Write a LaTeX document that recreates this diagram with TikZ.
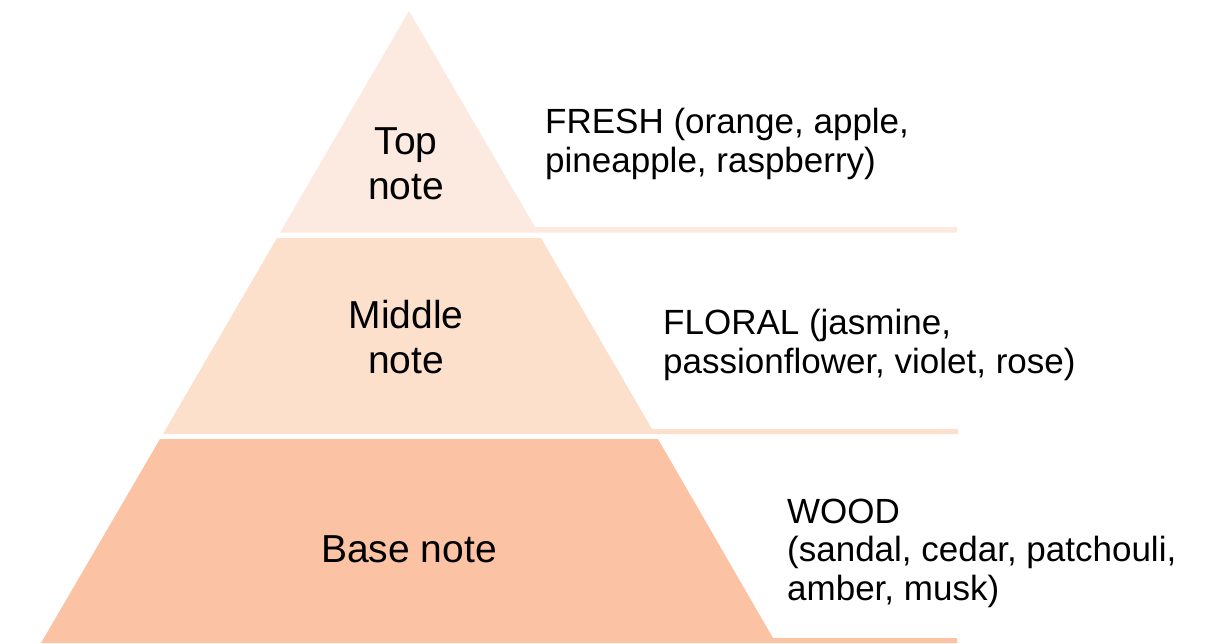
\documentclass[tikz,border=0pt]{standalone}
\usepackage{fontspec}
\setmainfont{Liberation Sans}
\definecolor{topc}{RGB}{252,233,223}
\definecolor{midc}{RGB}{252,224,204}
\definecolor{basec}{RGB}{251,195,164}
\begin{document}
\begin{tikzpicture}[x=1pt,y=-1pt,
  lbl/.style={font=\fontsize{39}{45}\selectfont, align=center, inner sep=0pt, text=black},
  desc/.style={font=\fontsize{35}{38.5}\selectfont, align=left, anchor=west, inner sep=0pt, text=black}]
\useasboundingbox (0,0) rectangle (1224,643);
\fill[topc] (409,11) -- (280,232.5) -- (957,232.5) -- (957,227) -- (535,227) -- cycle;
\fill[midc] (277,238) -- (541,238) -- (652,429) -- (958,429) -- (958,434) -- (163,434) -- cycle;
\fill[basec] (160,439) -- (658,439) -- (773,638) -- (957,638) -- (957,643) -- (41,643) -- cycle;
\node[lbl] (top) at (406,164) {Top\\note};
\node[lbl] (mid) at (406,337) {Middle\\note};
\node[lbl] (base) at (409,549) {Base note};
\node[desc] (fresh) at (545,144) {FRESH (orange, apple,\\pineapple, raspberry)};
\node[desc] (floral) at (663,345) {FLORAL (jasmine,\\passionflower, violet, rose)};
\node[desc] (wood) at (787,553) {WOOD\\(sandal, cedar, patchouli,\\amber, musk)};
\end{tikzpicture}
\end{document}
